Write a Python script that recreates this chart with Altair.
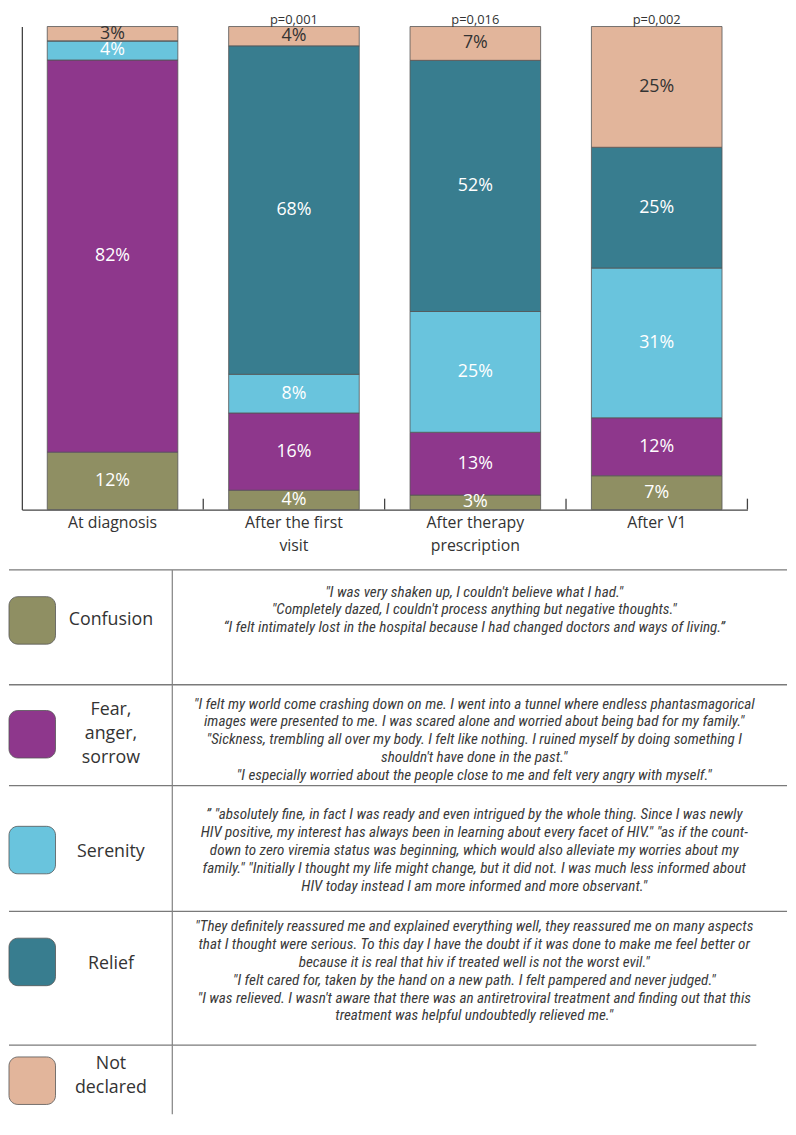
import altair as alt
import pandas as pd

# ---------------- data ----------------
timepoints = ["At diagnosis", "After the first\nvisit", "After therapy\nprescription", "After V1"]
categories = ["Confusion", "Fear, anger, sorrow", "Serenity", "Relief", "Not declared"]
category_labels = ["Confusion", "Fear,\nanger,\nsorrow", "Serenity", "Relief", "Not\ndeclared"]
colors = ["#8f8f63", "#8e378c", "#69c4dd", "#387d8f", "#e2b59b"]

confusion = [12, 4, 3, 7]
fear = [82, 16, 13, 12]
serenity = [4, 8, 25, 31]
relief = [0, 68, 52, 25]
not_declared = [3, 4, 7, 25]
p_values = ["", "p=0,001", "p=0,016", "p=0,002"]

quote_confusion = (
    "\"I was very shaken up, I couldn't believe what I had.\"\n"
    "\"Completely dazed, I couldn't process anything but negative thoughts.\"\n"
    "\u201cI felt intimately lost in the hospital because I had changed doctors and ways of living.\u201d"
)
quote_fear = (
    "\"I felt my world come crashing down on me. I went into a tunnel where endless phantasmagorical\n"
    "images were presented to me. I was scared alone and worried about being bad for my family.\"\n"
    "\"Sickness, trembling all over my body. I felt like nothing. I ruined myself by doing something I\n"
    "shouldn't have done in the past.\"\n"
    "\"I especially worried about the people close to me and felt very angry with myself.\""
)
quote_serenity = (
    "\u201d \"absolutely fine, in fact I was ready and even intrigued by the whole thing. Since I was newly\n"
    "HIV positive, my interest has always been in learning about every facet of HIV.\" \"as if the count-\n"
    "down to zero viremia status was beginning, which would also alleviate my worries about my\n"
    "family.\" \"Initially I thought my life might change, but it did not. I was much less informed about\n"
    "HIV today instead I am more informed and more observant.\""
)
quote_relief = (
    "\"They definitely reassured me and explained everything well, they reassured me on many aspects\n"
    "that I thought were serious. To this day I have the doubt if it was done to make me feel better or\n"
    "because it is real that hiv if treated well is not the worst evil.\"\n"
    "\"I felt cared for, taken by the hand on a new path. I felt pampered and never judged.\"\n"
    "\"I was relieved. I wasn't aware that there was an antiretroviral treatment and finding out that this\n"
    "treatment was helpful undoubtedly relieved me.\""
)
quotes = [quote_confusion, quote_fear, quote_serenity, quote_relief, ""]

series = [confusion, fear, serenity, relief, not_declared]

# ---------------- tables built from the arrays ----------------
bar_rows = []
for ti, tp in enumerate(timepoints):
    for ci, cat in enumerate(categories):
        v = series[ci][ti]
        bar_rows.append({"timepoint": tp, "category": cat, "order": ci,
                         "value": v, "label": f"{v}%"})
bar_df = pd.DataFrame(bar_rows)
tp_df = pd.DataFrame({"timepoint": timepoints, "p": p_values})
legend_df = pd.DataFrame({"category": categories, "label": category_labels, "quote": quotes})

color_scale = alt.Scale(domain=categories, range=colors)
x_scale = alt.Scale(domain=timepoints, range=[13, 746], paddingInner=0, paddingOuter=0)
y_scale = alt.Scale(domain=[0, 1])

TEXT = "#333333"
LINE = "#7a7a7a"

x_axis = alt.Axis(title=None, orient="bottom", domain=True, labels=True, ticks=False, grid=False,
                  domainColor="#444444", domainWidth=1.3,
                  labelAngle=0, labelFont="Open Sans", labelFontSize=16, labelColor=TEXT,
                  labelPadding=5, labelLineHeight=23,
                  labelExpr="split(datum.label, '\\n')")
y_axis = alt.Axis(title=None, orient="left", domain=True, labels=False, ticks=False, grid=False,
                  domainColor="#444444", domainWidth=1.3, offset=-13)


def x_enc(**kw):
    return alt.X("timepoint:N", sort=timepoints, scale=x_scale, axis=x_axis, **kw)


stacked = (
    alt.Chart(bar_df)
    .transform_joinaggregate(total="sum(value)", groupby=["timepoint"])
    .transform_stack(stack="value", groupby=["timepoint"],
                     sort=[alt.SortField("order", order="ascending")], as_=["v0", "v1"])
    .transform_calculate(y0="datum.v0 / datum.total", y1="datum.v1 / datum.total",
                         ymid="(datum.v0 + datum.v1) / 2 / datum.total")
)

bars = stacked.mark_bar(width=alt.RelativeBandSize(0.72), stroke="#555555", strokeWidth=0.8).encode(
    x=x_enc(),
    y=alt.Y("y0:Q", scale=y_scale, axis=y_axis),
    y2="y1:Q",
    color=alt.Color("category:N", scale=color_scale, legend=None),
)

bar_labels = stacked.transform_filter("datum.value > 0").mark_text(
    font="Open Sans", fontSize=18, baseline="middle", align="center"
).encode(
    x=x_enc(),
    y=alt.Y("ymid:Q", scale=y_scale, axis=y_axis),
    text="label:N",
    color=alt.condition(alt.datum.category == "Not declared", alt.value(TEXT), alt.value("white")),
)

ticks = alt.Chart(tp_df).mark_rule(color="#444444", strokeWidth=1.3, y2Offset=-11).encode(
    x=x_enc(bandPosition=1),
    y=alt.datum(0, scale=y_scale, axis=y_axis),
    y2=alt.datum(0),
)

pvals = alt.Chart(tp_df).mark_text(
    font="Open Sans", fontSize=13, color=TEXT, baseline="alphabetic", align="center", dy=-3
).encode(
    x=x_enc(),
    y=alt.datum(1, scale=y_scale, axis=y_axis),
    text="p:N",
)

top = alt.layer(bars, bar_labels, ticks, pvals).properties(width=786, height=488)

# ---------------- legend / quotes table ----------------
row_heights = [116, 102, 127, 135, 70]
square_top = [27, 26, 41, 27, 12]
label_y = [51, 26, 67, 53, 19]      # centre of first line
quote_y = [22, 19, 29, 15, 0]       # centre of first line
rule_end = [786, 786, 786, 786, 755]


def row_chart(i):
    h = row_heights[i]
    base = alt.Chart(legend_df).transform_filter(alt.datum.category == categories[i])
    top_rule = base.mark_rule(color=LINE, strokeWidth=1.3).encode(
        x=alt.value(0), x2=alt.value(rule_end[i]), y=alt.value(0))
    vline = base.mark_rule(color="#8a8a8a", strokeWidth=1.3).encode(
        x=alt.value(165), y=alt.value(0), y2=alt.value(h))
    square = base.mark_rect(cornerRadius=9, stroke="#555555", strokeWidth=0.8).encode(
        x=alt.value(0), x2=alt.value(47),
        y=alt.value(square_top[i]), y2=alt.value(square_top[i] + 48),
        color=alt.Color("category:N", scale=color_scale, legend=None))
    label = base.mark_text(font="Open Sans", fontSize=18, color=TEXT, lineBreak="\n",
                           lineHeight=24, align="center", baseline="middle").encode(
        x=alt.value(103), y=alt.value(label_y[i]), text="label:N")
    quote = base.mark_text(font="'Liberation Sans Narrow', 'Roboto Condensed', Roboto",
                           fontStyle="italic", fontSize=15.3, color="#3a3a3a", lineBreak="\n",
                           lineHeight=18, align="center", baseline="middle").encode(
        x=alt.value(470), y=alt.value(quote_y[i]), text="quote:N")
    return alt.layer(top_rule, vline, square, label, quote).properties(width=786, height=h)


table = alt.vconcat(*[row_chart(i) for i in range(len(categories))], spacing=0, bounds="flush")

chart = (
    alt.vconcat(top, table, spacing=61, bounds="flush")
    .properties(padding=0)
    .configure_view(stroke=None)
)

chart.save("out.html", embed_options={"renderer": "svg", "actions": False})
